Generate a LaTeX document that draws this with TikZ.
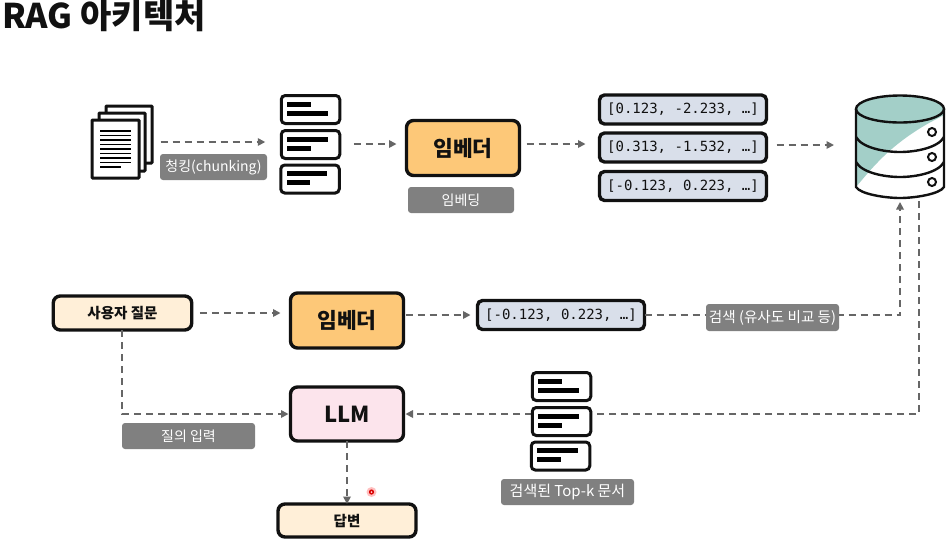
\documentclass[tikz,border=0pt]{standalone}
\usepackage{fontspec}
\setmainfont{Noto Sans CJK KR}
\newfontfamily\monof{DejaVu Sans Mono}
\usetikzlibrary{arrows.meta,calc}
\definecolor{dashc}{HTML}{666666}
\definecolor{labelc}{HTML}{808080}
\definecolor{orangec}{HTML}{FDC878}
\definecolor{creamc}{HTML}{FFEFD8}
\definecolor{pinkc}{HTML}{FCE4EC}
\definecolor{vecc}{HTML}{D9DFEA}
\definecolor{tealc}{HTML}{A3CFC8}
\definecolor{inkc}{HTML}{111111}
\tikzset{
  x=1pt,y=-1pt,
  box/.style={draw=inkc,line width=3.4pt,rounded corners=7pt,inner sep=0pt,outer sep=0pt,text=inkc},
  embedbox/.style={box,fill=orangec,minimum width=113pt,minimum height=55pt,font=\fontsize{21.5}{22}\selectfont\bfseries},
  llmbox/.style={box,fill=pinkc,minimum width=113pt,minimum height=54pt,font=\fontsize{22}{22}\selectfont\bfseries},
  creambox/.style={box,fill=creamc,font=\fontsize{14.5}{14.5}\selectfont\bfseries},
  vecbox/.style={box,fill=vecc,rounded corners=5pt,minimum width=167pt,minimum height=29pt,font=\monof\fontsize{14}{14}\selectfont},
  tag/.style={fill=labelc,rounded corners=3pt,inner sep=0pt,outer sep=0pt,text=white,font=\fontsize{14}{14}\selectfont},
  card/.style={draw=inkc,line width=3pt,rounded corners=4pt,fill=white,inner sep=0pt,outer sep=0pt,minimum width=58.5pt,minimum height=28pt},
  page/.style={draw=inkc,line width=3pt,fill=white,rounded corners=0.8pt},
  bar/.style={fill=black},
  flow/.style={draw=dashc,line width=1.7pt,dash pattern=on 7pt off 5pt},
  arrow/.style={flow,-{Triangle[length=7.5pt,width=7.5pt,fill=dashc]}},
  dbline/.style={draw=inkc,line width=2.4pt},
  shortlong/.pic={\fill[bar] (-23.5,-8) rectangle (0,-3); \fill[bar] (-23.5,1) rectangle (17,6);},
  longshort/.pic={\fill[bar] (-23.5,-8) rectangle (17,-3); \fill[bar] (-23.5,1) rectangle (0,6);}
}
\begin{document}
\begin{tikzpicture}
\useasboundingbox[fill=white] (0,0) rectangle (950,539);
% title
\node[anchor=west,inner sep=0pt,font=\fontsize{34}{34}\selectfont\bfseries,text=inkc] (title) at (2,16) {RAG 아키텍처};

% document stack
\draw[page] (106,106) rectangle (152,163);
\draw[page] (99,113) rectangle (145,171);
\node[page,inner sep=0pt,minimum width=47pt,minimum height=58pt] (docs) at (115.5,149) {};
\foreach \yy/\xe in {131/131,135.5/131,140/131,144.5/131,149/131,153.5/131,158/131,162.5/131,167/121}
  \draw[black,line width=1.5pt] (100,\yy) -- (\xe,\yy);

% chunks
\node[card] (c1) at (310.5,109.5) {};
\node[card] (c2) at (310.5,144.5) {};
\node[card] (c3) at (310,179) {};
\path (c1.center) pic {shortlong};
\path (c2.center) pic {longshort};
\path (c3.center) pic {longshort};

% embedder 1 and vectors
\node[embedbox] (emb1) at (463,148) {임베더};
\node[vecbox] (v1) at (683,109.5) {[0.123, -2.233, …]};
\node[vecbox] (v2) at (683,147.5) {[0.313, -1.532, …]};
\node[vecbox] (v3) at (683,186) {[-0.123, 0.223, …]};

% database
\coordinate (dbl) at (856,145);
\coordinate (dbin1) at (900,202);
\coordinate (dbin2) at (919,201);
\fill[white] (856,109) -- (856,187) .. controls (860,194) and (885,198) .. (900,198) .. controls (915,198) and (940,194) .. (944,187) -- (944,109) -- cycle;
\fill[tealc] (856,109) -- (856,187) .. controls (872,168) and (890,145) .. (929,123) -- (944,115) -- (944,109) -- cycle;
\fill[tealc] (900,109) ellipse[x radius=44,y radius=13.5];
\draw[dbline] (856,137) .. controls (862,148) and (885,152) .. (900,152) .. controls (915,152) and (938,148) .. (944,137);
\draw[dbline] (856,162) .. controls (862,173) and (885,177) .. (900,177) .. controls (915,177) and (938,173) .. (944,162);
\draw[dbline] (856,109) -- (856,187) .. controls (860,194) and (885,198) .. (900,198) .. controls (915,198) and (940,194) .. (944,187) -- (944,109);
\draw[dbline] (900,109) ellipse[x radius=44,y radius=13.5];
\foreach \yy in {132,157,182}
  \draw[inkc,line width=2pt,fill=white] (932,\yy) circle[radius=4];

% lower row nodes
\node[creambox,minimum width=138.5pt,minimum height=34pt] (q) at (122.5,313) {사용자 질문};
\node[embedbox] (emb2) at (347,320.5) {임베더};
\node[vecbox] (v4) at (561,315) {[-0.123, 0.223, …]};
\node[llmbox] (llm) at (347,414) {LLM};
\node[creambox,minimum width=138pt,minimum height=33pt] (ans) at (347,520.5) {답변};

% connectors
\coordinate (yA) at (0,142);
\coordinate (yB) at (0,144);
\coordinate (yD) at (0,145);
\coordinate (yE) at (0,313);
\coordinate (yF) at (0,315);
\coordinate (turnG) at (900,315);
\coordinate (turnH) at (919,414);
\coordinate (turnI) at (122,414);
\draw[arrow,shorten <=20pt,shorten >=16pt] (docs.east |- yA) -- (c2.west |- yA);
\draw[arrow,shorten <=14pt,shorten >=10pt] (c2.east |- yB) -- (emb1.west |- yB);
\draw[arrow,shorten <=7pt,shorten >=14pt] (emb1.east |- yB) -- (v2.west |- yB);
\draw[arrow,shorten <=10pt,shorten >=22pt] (v2.east |- yD) -- (dbl);
\draw[arrow,shorten <=8pt,shorten >=10pt] (q.east |- yE) -- (emb2.west |- yE);
\draw[arrow,shorten <=2pt,shorten >=7pt] (emb2.east |- yF) -- (v4.west |- yF);
\draw[arrow] (v4.east |- yF) -- (turnG) -- (dbin1);
\draw[arrow,shorten >=2pt] (dbin2) -- (turnH) -- (llm.east);
\draw[arrow,shorten >=2pt] (q.south -| turnI) -- (turnI) -- (llm.west);
\draw[arrow] (llm.south) -- (ans.north);

% labels over the connectors
\node[tag,minimum width=107pt,minimum height=26pt] (chtag) at (213.5,167) {청킹(chunking)};
\node[tag,minimum width=106pt,minimum height=26pt] (embtag) at (461,200) {임베딩};
\node[tag,minimum width=133pt,minimum height=27pt,font=\fontsize{14.6}{14.6}\selectfont] (stag) at (772.5,317.5) {검색 (유사도 비교 등)};
\node[tag,minimum width=133pt,minimum height=26pt] (itag) at (188.5,436) {질의 입력};
\node[tag,minimum width=133pt,minimum height=26pt,font=\fontsize{15}{15}\selectfont] (ttag) at (567.5,492) {검색된 Top-k 문서};

% retrieved chunks
\node[card] (r1) at (561.5,386.5) {};
\node[card] (r2) at (561.5,421.5) {};
\node[card] (r3) at (560.5,456) {};
\path (r1.center) pic {shortlong};
\path (r2.center) pic {longshort};
\path (r3.center) pic {longshort};

% pointer dot
\fill[red!25] (371.5,492) circle[radius=5];
\fill[red!85!black] (371.5,492) circle[radius=2.6];
\fill[red!20] (371.5,492) circle[radius=1];
\end{tikzpicture}
\end{document}
